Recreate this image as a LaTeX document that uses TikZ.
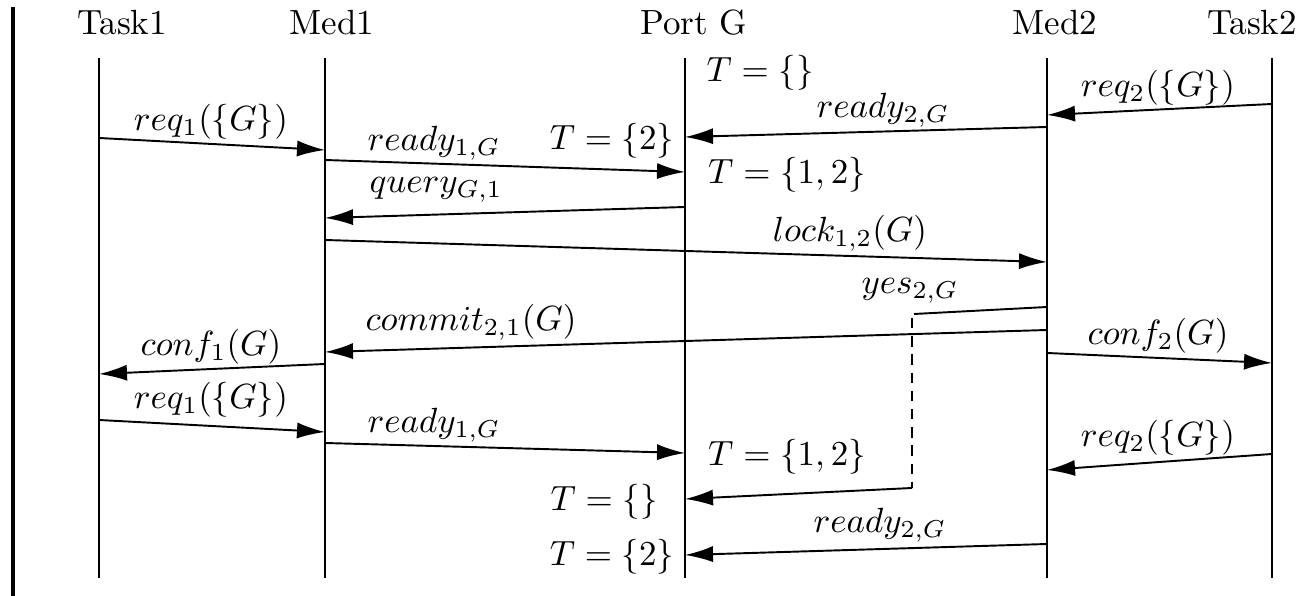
\documentclass[tikz,border=0pt]{standalone}
\usetikzlibrary{arrows.meta}
\begin{document}
\begin{tikzpicture}[x=0.2857pt,y=-0.2857pt,
  life/.style={line width=0.55pt},
  msg/.style={line width=0.55pt,-{Latex[length=8pt,width=4.6pt]}},
  plain/.style={line width=0.55pt},
  waitline/.style={line width=0.55pt,dash pattern=on 3pt off 2.2pt},
  lbl/.style={inner sep=0pt},
  head/.style={anchor=base,inner sep=0pt}]
\useasboundingbox (0,0) rectangle (1311,596);
% frame bar on the left
\draw[line width=0.9pt] (13,7) -- (13,596);

% participants
\node[head] (hT1) at (122,35) {Task1};
\node[head] (hM1) at (332,35) {Med1};
\node[head] (hPG) at (694,35) {Port G};
\node[head] (hM2) at (1055,35) {Med2};
\node[head] (hT2) at (1252,35) {Task2};

% lifelines
\coordinate (T1a) at (99,58);   \coordinate (T1b) at (99,578);
\coordinate (M1a) at (325,58);  \coordinate (M1b) at (325,578);
\coordinate (PGa) at (685,58);  \coordinate (PGb) at (685,578);
\coordinate (M2a) at (1047,58); \coordinate (M2b) at (1047,578);
\coordinate (T2a) at (1272,58); \coordinate (T2b) at (1272,578);
\foreach \l in {T1,M1,PG,M2,T2} \draw[life] (\l a) -- (\l b);

% message end points
\coordinate (r1s) at (99,138);    \coordinate (r1e) at (325,150);
\coordinate (y1s) at (325,160);   \coordinate (y1e) at (685,172);
\coordinate (qs)  at (685,207);   \coordinate (qe)  at (325,218);
\coordinate (y2s) at (1047,127);  \coordinate (y2e) at (685,137);
\coordinate (r2s) at (1272,104);  \coordinate (r2e) at (1047,115);
\coordinate (ls)  at (325,240);   \coordinate (le)  at (1047,262);
\coordinate (ys)  at (1047,307);  \coordinate (yc0) at (914,314);
\coordinate (yc1) at (912,318);
\coordinate (yc2) at (912,488);   \coordinate (ye)  at (685,499);
\coordinate (cs)  at (1047,330);  \coordinate (ce)  at (325,352);
\coordinate (f1s) at (325,364);   \coordinate (f1e) at (99,374);
\coordinate (f2s) at (1047,353);  \coordinate (f2e) at (1272,363);
\coordinate (r3s) at (99,420);    \coordinate (r3e) at (325,432);
\coordinate (y3s) at (325,443);   \coordinate (y3e) at (685,453);
\coordinate (r4s) at (1272,454);  \coordinate (r4e) at (1047,470);
\coordinate (y4s) at (1047,544);  \coordinate (y4e) at (685,555);

% messages
\draw[msg] (r1s) -- (r1e);
\draw[msg] (y1s) -- (y1e);
\draw[msg] (qs) -- (qe);
\draw[msg] (y2s) -- (y2e);
\draw[msg] (r2s) -- (r2e);
\draw[msg] (ls) -- (le);
\draw[plain] (ys) -- (yc0);
\draw[waitline] (yc1) -- (yc2);
\draw[msg] (yc2) -- (ye);
\draw[msg] (cs) -- (ce);
\draw[msg] (f1s) -- (f1e);
\draw[msg] (f2s) -- (f2e);
\draw[msg] (r3s) -- (r3e);
\draw[msg] (y3s) -- (y3e);
\draw[msg] (r4s) -- (r4e);
\draw[msg] (y4s) -- (y4e);

% message labels
\node[lbl] (Lr1) at (211,122) {$req_1(\{G\})$};
\node[lbl] (Ly1) at (434,143) {$ready_{1,G}$};
\node[lbl] (Lq)  at (436,190) {$query_{G,1}$};
\node[lbl] (Ly2) at (883,110) {$ready_{2,G}$};
\node[lbl] (Lr2) at (1158,88) {$req_2(\{G\})$};
\node[lbl] (Ll)  at (850,233) {$lock_{1,2}(G)$};
\node[lbl] (Lys) at (910,291) {$yes_{2,G}$};
\node[lbl] (Lc)  at (471,322) {$commit_{2,1}(G)$};
\node[lbl] (Lf1) at (211,347) {$conf_1(G)$};
\node[lbl] (Lf2) at (1158,336) {$conf_2(G)$};
\node[lbl] (Lr3) at (211,400) {$req_1(\{G\})$};
\node[lbl] (Ly3) at (434,425) {$ready_{1,G}$};
\node[lbl] (Lr4) at (1158,438) {$req_2(\{G\})$};
\node[lbl] (Ly4) at (880,525) {$ready_{2,G}$};

% port state annotations
\node[lbl] (S1) at (760,73)  {$T=\{\}$};
\node[lbl] (S2) at (612,141) {$T=\{2\}$};
\node[lbl] (S3) at (787,175) {$T=\{1,2\}$};
\node[lbl] (S4) at (787,457) {$T=\{1,2\}$};
\node[lbl] (S5) at (604,502) {$T=\{\}$};
\node[lbl] (S6) at (612,557) {$T=\{2\}$};
\end{tikzpicture}
\end{document}
